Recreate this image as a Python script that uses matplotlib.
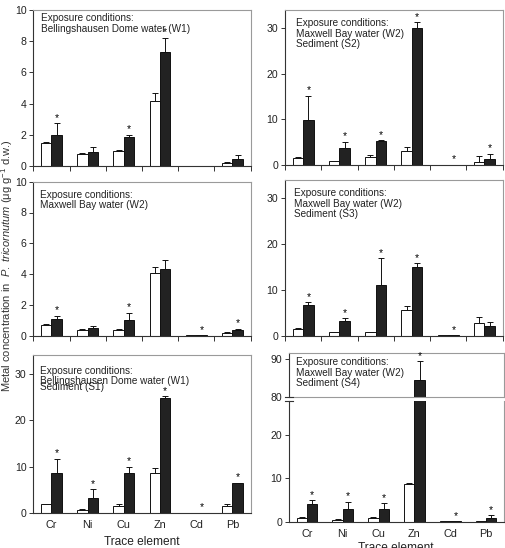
import matplotlib
matplotlib.use('Agg')
import matplotlib.pyplot as plt
import numpy as np
from matplotlib.lines import Line2D

plt.rcParams['font.family'] = ['Liberation Sans', 'DejaVu Sans']
plt.rcParams['mathtext.fontset'] = 'custom'
plt.rcParams['mathtext.rm'] = 'Liberation Sans'
plt.rcParams['mathtext.it'] = 'Liberation Sans:italic'

elements = ['Cr', 'Ni', 'Cu', 'Zn', 'Cd', 'Pb']

# Panel A: Bellingshausen Dome water (W1)
a_white = [1.45, 0.77, 0.96, 4.15, 0.02, 0.19]
a_white_err = [0.11, 0.08, 0.07, 0.51, 0.0, 0.04]
a_black = [1.97, 0.88, 1.88, 7.29, 0.02, 0.43]
a_black_err = [0.77, 0.32, 0.12, 0.94, 0.0, 0.25]
a_star = [1, 0, 1, 1, 0, 0]

# Panel B: Maxwell Bay water (W2) + Sediment (S2)
b_white = [1.54, 0.80, 1.76, 3.07, 0.05, 0.73]
b_white_err = [0.14, 0.08, 0.34, 0.88, 0.0, 1.17]
b_black = [9.95, 3.73, 5.27, 30.0, 0.05, 1.32]
b_black_err = [5.25, 1.37, 0.13, 1.20, 0.0, 1.18]
b_star = [1, 1, 1, 1, 1, 1]

# Panel C: Maxwell Bay water (W2)
c_white = [0.71, 0.39, 0.39, 4.09, 0.02, 0.17]
c_white_err = [0.07, 0.04, 0.04, 0.39, 0.0, 0.07]
c_black = [1.08, 0.50, 1.04, 4.31, 0.02, 0.39]
c_black_err = [0.22, 0.10, 0.45, 0.60, 0.0, 0.06]
c_star = [1, 0, 1, 0, 1, 1]

# Panel D: Maxwell Bay water (W2) + Sediment (S3)
d_white = [1.45, 0.80, 0.73, 5.66, 0.05, 2.83]
d_white_err = [0.15, 0.07, 0.07, 0.80, 0.0, 1.31]
d_black = [6.68, 3.20, 11.1, 15.03, 0.05, 2.10]
d_black_err = [0.58, 0.58, 5.75, 0.73, 0.0, 0.95]
d_star = [1, 1, 1, 1, 1, 0]

# Panel E: Bellingshausen Dome water (W1) + Sediment (S1)
e_white = [1.88, 0.72, 1.52, 8.60, 0.05, 1.45]
e_white_err = [0.07, 0.08, 0.43, 1.16, 0.0, 0.55]
e_black = [8.68, 3.33, 8.53, 24.66, 0.05, 6.36]
e_black_err = [3.02, 1.80, 1.45, 0.44, 0.0, 0.14]
e_star = [1, 1, 1, 1, 1, 1]

# Panel F: Maxwell Bay water (W2) + Sediment (S4)
f_white = [0.92, 0.46, 0.92, 8.58, 0.05, 0.15]
f_white_err = [0.15, 0.08, 0.08, 0.22, 0.0, 0.0]
f_black = [3.98, 2.91, 2.91, 84.6, 0.05, 0.84]
f_black_err = [0.92, 1.69, 1.29, 4.9, 0.0, 0.62]
f_star = [1, 1, 1, 1, 1, 1]

W, H = 505, 548
fig = plt.figure(figsize=(W / 100, H / 100), dpi=100)


def px_axes(x0, x1, ytop, ybot):
    return fig.add_axes([x0 / W, 1 - ybot / H, (x1 - x0) / W, (ybot - ytop) / H])


DARK = '#222222'
GRAY = '#9a9a9a'
BW = 0.29


def style(ax, ylim, yticks, bottom_row=False):
    ax.set_xlim(0, 6)
    ax.set_ylim(*ylim)
    ax.set_yticks(yticks)
    ax.tick_params(axis='y', direction='out', length=3, width=0.7, color='#333333',
                   labelsize=7.6, pad=2, labelcolor='#222222')
    for s in ('left', 'bottom'):
        ax.spines[s].set_color('#333333')
        ax.spines[s].set_linewidth(0.8)
    for s in ('top', 'right'):
        ax.spines[s].set_color(GRAY)
        ax.spines[s].set_linewidth(0.8)
    if bottom_row:
        ax.set_xticks(np.arange(len(elements)) + 0.5)
        ax.set_xticklabels(elements)
        ax.tick_params(axis='x', length=0, labelsize=7.8, pad=5, labelcolor='#222222')
    else:
        ax.set_xticks(np.arange(len(elements) + 1))
        ax.set_xticklabels([])
        ax.tick_params(axis='x', direction='out', length=3.5, width=0.7, color='#333333')


def draw(ax, white, werr, black, berr, stars):
    x = np.arange(len(elements)) + 0.5
    white = np.array(white); black = np.array(black)
    werr = np.array(werr); berr = np.array(berr)
    ax.bar(x - BW / 2, white, BW, color='white', edgecolor='#111111', linewidth=0.7, zorder=2)
    ax.bar(x + BW / 2, black, BW, color=DARK, edgecolor='#111111', linewidth=0.7, zorder=2)
    mw = werr > 0
    mb = berr > 0
    ax.errorbar((x - BW / 2)[mw], white[mw], yerr=[np.zeros(mw.sum()), werr[mw]], fmt='none',
                ecolor='#111111', elinewidth=0.7, capsize=2, capthick=0.7, zorder=1)
    ax.errorbar((x + BW / 2)[mb], black[mb], yerr=[np.zeros(mb.sum()), berr[mb]], fmt='none',
                ecolor='#111111', elinewidth=0.7, capsize=2, capthick=0.7, zorder=1)
    for xi, b, e, s in zip(x, black, berr, stars):
        if s:
            ax.annotate('*', (xi + BW / 2, b + e), xytext=(0, 0.3), textcoords='offset points',
                        ha='center', va='bottom', fontsize=7.5)


def label(lines, x, ys):
    for t, y in zip(lines, ys):
        fig.text(x / W, 1 - y / H, t, fontsize=7.2, ha='left', va='center', color='#222222')


# Row 1
ax1 = px_axes(33.3, 250.5, 10, 166)
draw(ax1, a_white, a_white_err, a_black, a_black_err, a_star)
style(ax1, (0, 10), [0, 2, 4, 6, 8, 10])
label(['Exposure conditions:', 'Bellingshausen Dome water (W1)'], 40.7, [18.3, 29])

ax2 = px_axes(285, 502.5, 9.7, 165)
draw(ax2, b_white, b_white_err, b_black, b_black_err, b_star)
style(ax2, (0, 34), [0, 10, 20, 30])
label(['Exposure conditions:', 'Maxwell Bay water (W2)', 'Sediment (S2)'], 295.7, [23.3, 33.7, 43.7])

# Row 2
ax3 = px_axes(33.3, 250.5, 181.7, 335.7)
draw(ax3, c_white, c_white_err, c_black, c_black_err, c_star)
style(ax3, (0, 10), [0, 2, 4, 6, 8, 10])
label(['Exposure conditions:', 'Maxwell Bay water (W2)'], 40, [195, 205.3])

ax4 = px_axes(285, 502.5, 179.5, 335.7)
draw(ax4, d_white, d_white_err, d_black, d_black_err, d_star)
style(ax4, (0, 34), [0, 10, 20, 30])
label(['Exposure conditions:', 'Maxwell Bay water (W2)', 'Sediment (S3)'], 294, [193.3, 204, 214])

# Row 3
ax5 = px_axes(33.3, 250.5, 355, 513)
draw(ax5, e_white, e_white_err, e_black, e_black_err, e_star)
style(ax5, (0, 34), [0, 10, 20, 30], bottom_row=True)
label(['Exposure conditions:', 'Bellingshausen Dome water (W1)', 'Sediment (S1)'], 40, [370.7, 381.3, 387.5])

ax6u = px_axes(289, 504, 352.7, 397)
draw(ax6u, f_white, f_white_err, f_black, f_black_err, f_star)
style(ax6u, (80, 91.75), [80, 90])
ax6u.set_xticks([])
ax6u.spines['bottom'].set_color(GRAY)
ax6u.spines['bottom'].set_linewidth(0.8)

ax6 = px_axes(289, 504, 401, 521.7)
draw(ax6, f_white, f_white_err, f_black, f_black_err, f_star)
style(ax6, (0, 27.7), [0, 10, 20], bottom_row=True)
ax6.spines['top'].set_visible(False)
label(['Exposure conditions:', 'Maxwell Bay water (W2)', 'Sediment (S4)'], 296, [361.7, 372.7, 383.3])

# break marks on the y-axis of the broken panel
for yb in (397, 401):
    fig.add_artist(Line2D([285 / W, 293 / W], [1 - yb / H, 1 - yb / H], color='#333333', lw=0.8))

# Axis titles
fig.text(7 / W, 1 - 266 / H,
         r'Metal concentration in  $\mathit{P.\ tricornutum}$ (μg g$^{-1}$ d.w.)',
         rotation=90, ha='center', va='center', fontsize=8.0, color='#333333')
fig.text(142 / W, 1 - 541.7 / H, 'Trace element', ha='center', va='center', fontsize=8.6, color='#222222')
fig.text(396 / W, 1 - 548 / H, 'Trace element', ha='center', va='center', fontsize=8.6, color='#222222')

fig.savefig('out.png', dpi=100)
